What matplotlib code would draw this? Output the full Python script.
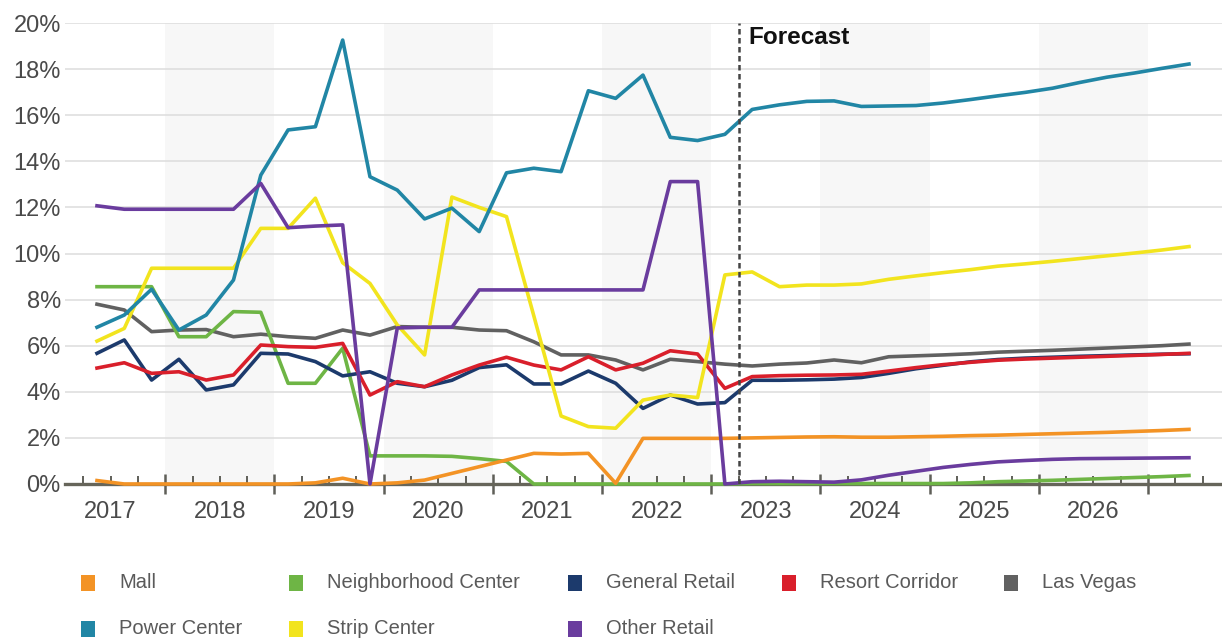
import matplotlib
matplotlib.use("Agg")
import matplotlib.pyplot as plt
from matplotlib.patches import Rectangle
from matplotlib.ticker import FixedLocator, FuncFormatter
import numpy as np

plt.rcParams['font.family'] = ['Liberation Sans', 'DejaVu Sans']

# quarterly retail vacancy (%), 41 quarters; everything after index 23 is forecast
years = [2017, 2018, 2019, 2020, 2021, 2022, 2023, 2024, 2025, 2026]
forecast_start = 23.5

mall = [0.15, 0, 0, 0, 0, 0, 0, 0, 0.05, 0.25, 0.0, 0.05,
        0.17, 0.46, 0.75, 1.04, 1.33, 1.3, 1.33, 0.03, 1.98, 1.98, 1.98, 1.98,
        2.0, 2.02, 2.04, 2.05, 2.03, 2.03, 2.05, 2.07, 2.1, 2.12, 2.15, 2.18,
        2.21, 2.24, 2.28, 2.32, 2.37]
neighborhood = [8.56, 8.56, 8.56, 6.39, 6.39, 7.48, 7.45, 4.37, 4.37, 5.89, 1.22, 1.22,
                1.22, 1.2, 1.1, 0.98, 0, 0, 0, 0, 0, 0, 0, 0,
                0.02, 0.02, 0.02, 0.02, 0.02, 0.02, 0.02, 0.02, 0.05, 0.1, 0.13, 0.16,
                0.2, 0.24, 0.28, 0.32, 0.37]
general = [5.67, 6.25, 4.51, 5.41, 4.08, 4.3, 5.67, 5.64, 5.31, 4.69, 4.87, 4.37,
           4.22, 4.5, 5.05, 5.17, 4.34, 4.34, 4.9, 4.37, 3.28, 3.86, 3.47, 3.53,
           4.5, 4.5, 4.52, 4.55, 4.62, 4.8, 5.0, 5.15, 5.3, 5.4, 5.46, 5.5,
           5.54, 5.57, 5.6, 5.63, 5.65]
resort = [5.03, 5.26, 4.8, 4.87, 4.51, 4.73, 6.03, 5.96, 5.93, 6.1, 3.86, 4.44,
          4.22, 4.73, 5.16, 5.5, 5.16, 4.95, 5.52, 4.95, 5.24, 5.78, 5.64, 4.15,
          4.66, 4.7, 4.72, 4.73, 4.76, 4.9, 5.05, 5.18, 5.28, 5.37, 5.42, 5.46,
          5.5, 5.54, 5.58, 5.62, 5.67]
las_vegas = [7.8, 7.55, 6.61, 6.68, 6.7, 6.39, 6.5, 6.39, 6.32, 6.68, 6.46, 6.83,
             6.8, 6.8, 6.68, 6.65, 6.17, 5.6, 5.6, 5.38, 4.95, 5.41, 5.31, 5.2,
             5.12, 5.2, 5.25, 5.38, 5.26, 5.52, 5.56, 5.6, 5.65, 5.72, 5.76, 5.8,
             5.85, 5.9, 5.95, 6.0, 6.07]
power = [6.8, 7.33, 8.45, 6.68, 7.33, 8.85, 13.4, 15.36, 15.5, 19.26, 13.33, 12.75,
         11.5, 11.97, 10.95, 13.5, 13.7, 13.55, 17.06, 16.73, 17.74, 15.04, 14.9, 15.17,
         16.25, 16.45, 16.6, 16.62, 16.38, 16.4, 16.42, 16.53, 16.68, 16.84, 16.99, 17.17,
         17.42, 17.65, 17.83, 18.03, 18.22]
strip = [6.2, 6.75, 9.36, 9.36, 9.36, 9.36, 11.09, 11.09, 12.4, 9.6, 8.7, 6.9,
         5.6, 12.45, 12.0, 11.6, 7.3, 2.95, 2.49, 2.42, 3.64, 3.86, 3.75, 9.07,
         9.2, 8.56, 8.63, 8.63, 8.68, 8.88, 9.03, 9.17, 9.3, 9.45, 9.55, 9.66,
         9.78, 9.9, 10.02, 10.15, 10.3]
other = [12.07, 11.92, 11.92, 11.92, 11.92, 11.92, 13.04, 11.12, 11.19, 11.24, 0.0, 6.77,
         6.8, 6.8, 8.42, 8.42, 8.42, 8.42, 8.42, 8.42, 8.42, 13.12, 13.12, 0.0,
         0.1, 0.12, 0.1, 0.08, 0.18, 0.38, 0.55, 0.72, 0.85, 0.96, 1.02, 1.07,
         1.1, 1.11, 1.12, 1.13, 1.14]

colors = {
    'Mall': '#f39325',
    'Neighborhood Center': '#6eb545',
    'General Retail': '#1c3a6c',
    'Resort Corridor': '#d91f2b',
    'Las Vegas': '#616161',
    'Power Center': '#2186a5',
    'Strip Center': '#f2e41e',
    'Other Retail': '#6a3c9e',
}

# drawing order, back to front
series = [
    ('Las Vegas', las_vegas),
    ('Neighborhood Center', neighborhood),
    ('Mall', mall),
    ('General Retail', general),
    ('Resort Corridor', resort),
    ('Strip Center', strip),
    ('Power Center', power),
    ('Other Retail', other),
]

W, H = 1222, 639
fig = plt.figure(figsize=(W / 100, H / 100), dpi=100)
ax = fig.add_axes([65 / W, 155 / H, (W - 65) / W, 461 / H])

quarters = np.arange(len(mall))

# alternate shaded year bands
for k, yr in enumerate(years):
    if k % 2 == 1:
        ax.axvspan(-1.5 + 4 * k, 2.5 + 4 * k, color='#f7f7f7', lw=0, zorder=0)

for name, vals in series:
    ax.plot(quarters, vals, color=colors[name], lw=2.6, zorder=3, clip_on=False)

ax.axvline(forecast_start, color='#444444', lw=1.8, ls=(0, (2.2, 1.4)), zorder=4)
ax.text(23.85, 19.35, 'Forecast', fontsize=17.5, fontweight='bold', color='#111111',
        ha='left', va='center')

ax.set_xlim(-1.172, 41.21)
ax.set_ylim(0, 20)

# y axis: percent labels with light grid
ax.set_yticks(np.arange(0, 21, 2))
ax.yaxis.set_major_formatter(FuncFormatter(lambda v, p: f'{int(v)}%'))
ax.yaxis.grid(True, color='#dcdcdc', lw=1.1)
ax.set_axisbelow(True)
ax.tick_params(axis='y', length=0, pad=3, labelsize=17, labelcolor='#4a4a4a')

# x axis: year boundaries as major ticks, quarters as minor ticks
major = [-1.5 + 4 * k for k in range(12)]
minor = [q + 0.5 for q in range(-2, 42) if (q + 0.5) not in major]
ax.xaxis.set_major_locator(FixedLocator(major))
ax.xaxis.set_minor_locator(FixedLocator(minor))
ax.tick_params(axis='x', which='major', direction='inout', length=15, width=1.8,
               color='#5f5f58', labelbottom=False)
ax.tick_params(axis='x', which='minor', direction='in', length=6, width=1.4,
               color='#5f5f58')
for k, yr in enumerate(years):
    ax.text(0.5 + 4 * k, -0.061, str(yr), transform=ax.get_xaxis_transform(),
            ha='center', va='center', fontsize=17, color='#4a4a4a')

for side in ['top', 'right', 'left']:
    ax.spines[side].set_visible(False)
ax.spines['bottom'].set_color('#66655a')
ax.spines['bottom'].set_linewidth(2.4)

# legend laid out in two rows under the axis
legend_slots = [
    ('Mall', 88, 583), ('Neighborhood Center', 296, 583), ('General Retail', 575, 583),
    ('Resort Corridor', 789, 583), ('Las Vegas', 1011, 583),
    ('Power Center', 88, 629), ('Strip Center', 296, 629), ('Other Retail', 575, 629),
]
for name, px, py in legend_slots:
    fig.add_artist(Rectangle(((px - 7) / W, 1 - (py + 8) / H), 14 / W, 16 / H,
                             transform=fig.transFigure, color=colors[name], lw=0))
    fig.text((px + 31) / W, 1 - py / H, name, ha='left', va='center',
             fontsize=14.5, color='#5a5a5a')

fig.savefig('out.png', dpi=100)
